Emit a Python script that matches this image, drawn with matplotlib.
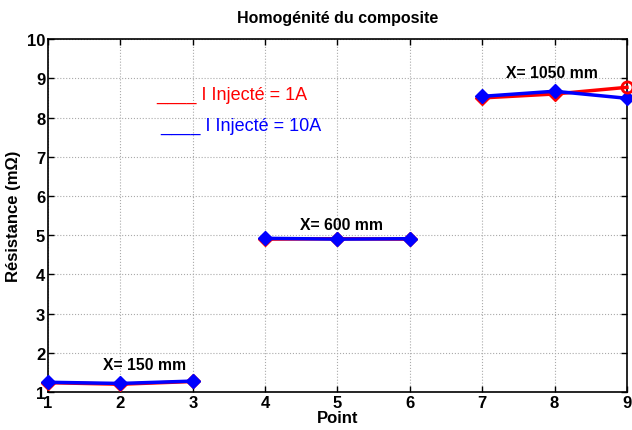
import numpy as np
import matplotlib.pyplot as plt

plt.rcParams['font.family'] = ['Liberation Sans', 'DejaVu Sans']

points = [[1, 2, 3], [4, 5, 6], [7, 8, 9]]
r_1a = [[1.24, 1.20, 1.27], [4.90, 4.91, 4.90], [8.50, 8.60, 8.77]]
r_10a = [[1.25, 1.22, 1.28], [4.92, 4.90, 4.91], [8.54, 8.67, 8.49]]
group_labels = ["X= 150 mm", "X= 600 mm", "X= 1050 mm"]
label_pos = [(2.34, 1.7), (5.05, 5.28), (7.96, 9.14)]

fig = plt.figure(figsize=(6.32, 4.31), dpi=100)
ax = fig.add_axes([0.076, 0.088, 0.916, 0.819])

for i, (xs, ya, yb) in enumerate(zip(points, r_1a, r_10a)):
    every = [0, 1] if i == 2 else None
    ax.plot(xs, ya, "-D", color="red", lw=2.5, markersize=7, markevery=every,
            clip_on=False, zorder=3)
    ax.plot(xs, yb, "-D", color="blue", lw=2.5, markersize=7, clip_on=False, zorder=4)
# open red circle on the last point
ax.plot(points[2][2], r_1a[2][2], "o", mfc="none", mec="red", mew=2,
        markersize=8, clip_on=False, zorder=5)

for lab, (lx, ly) in zip(group_labels, label_pos):
    ax.text(lx, ly, lab, ha="center", va="center", fontsize=11.3, fontweight="bold")

ax.text(2.5, 8.6, "____ I Injecté = 1A", color="red", fontsize=13, va="center")
ax.text(2.55, 7.8, "____ I Injecté = 10A", color="blue", fontsize=13, va="center")

ax.set_xlim(1, 9)
ax.set_ylim(1, 10)
ax.set_xticks(range(1, 10))
ax.set_yticks(range(1, 11))
ax.tick_params(direction="in", labelsize=12, width=1, length=4, top=True, right=True, pad=2)
for lab in ax.get_xticklabels() + ax.get_yticklabels():
    lab.set_fontweight("bold")
ax.grid(True, linestyle=":", color="#aaaaaa", lw=0.8)
for s in ax.spines.values():
    s.set_linewidth(1.2)

ax.set_title("Homogénité du composite", fontsize=11.5, fontweight="bold", pad=12)
ax.set_xlabel("Point", fontsize=12, fontweight="bold", labelpad=0)
ax.set_ylabel("Résistance (mΩ)", fontsize=12, fontweight="bold", labelpad=4)

fig.savefig("out.png", dpi=100)
